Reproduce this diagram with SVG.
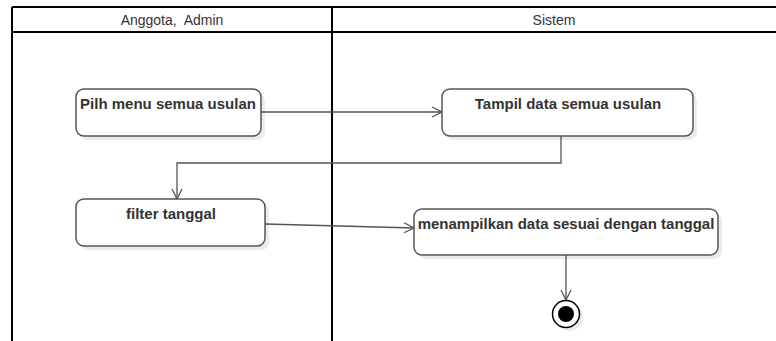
<svg xmlns="http://www.w3.org/2000/svg" width="776" height="341" viewBox="0 0 776 341">
<defs>
<style>
.lane{fill:none;stroke:#000;stroke-width:2}
.hdr{font-family:"Liberation Sans",Arial,sans-serif;font-size:14px;fill:#333;text-anchor:middle}
.box{fill:#fff;stroke:#555;stroke-width:1.5}
.shadow{fill:#000;opacity:0.08}
.lbl{font-family:"Liberation Sans",Arial,sans-serif;font-size:15px;font-weight:bold;fill:#333;text-anchor:middle}
.edge{fill:none;stroke:#555;stroke-width:1.3}
</style>
<marker id="arr" viewBox="0 0 12 12" refX="11" refY="6" markerWidth="12" markerHeight="12" markerUnits="userSpaceOnUse" orient="auto">
<path d="M1,1 L11,6 L1,11" fill="none" stroke="#555" stroke-width="1.3"/>
</marker>
</defs>
<rect width="776" height="341" fill="#fff"/>
<g id="lanes">
<line class="lane" x1="12" y1="7" x2="776" y2="7"/>
<line class="lane" x1="12" y1="32" x2="776" y2="32"/>
<line class="lane" x1="12" y1="7" x2="12" y2="341"/>
<line class="lane" x1="332" y1="7" x2="332" y2="341"/>
<text class="hdr" x="172" y="25" xml:space="preserve">Anggota,  Admin</text>
<text class="hdr" x="554" y="25">Sistem</text>
</g>
<g id="connectors">
<path class="edge" d="M261,112 L442,112" marker-end="url(#arr)"/>
<path class="edge" d="M561,136 L561,163 L177,163 L177,199" marker-end="url(#arr)"/>
<path class="edge" d="M265,224 L414,228" marker-end="url(#arr)"/>
<path class="edge" d="M566,255 L566,300" marker-end="url(#arr)"/>
</g>
<g id="n1">
<rect class="shadow" x="80" y="93" width="185" height="47" rx="8"/>
<rect class="box" x="76" y="89" width="185" height="47" rx="8"/>
<text class="lbl" x="168" y="109">Pilh menu semua usulan</text>
</g>
<g id="n2">
<rect class="shadow" x="446" y="93" width="251" height="47" rx="8"/>
<rect class="box" x="442" y="89" width="251" height="47" rx="8"/>
<text class="lbl" x="568" y="109">Tampil data semua usulan</text>
</g>
<g id="n3">
<rect class="shadow" x="80" y="203" width="189" height="47" rx="8"/>
<rect class="box" x="76" y="199" width="189" height="47" rx="8"/>
<text class="lbl" x="171" y="219">filter tanggal</text>
</g>
<g id="n4">
<rect class="shadow" x="418" y="213" width="304" height="46" rx="8"/>
<rect class="box" x="414" y="209" width="304" height="46" rx="8"/>
<text class="lbl" x="566" y="229">menampilkan data sesuai dengan tanggal</text>
</g>
<g id="end">
<circle cx="569" cy="317" r="14" fill="#000" opacity="0.08"/>
<circle cx="566" cy="314" r="13.5" fill="#fff" stroke="#000" stroke-width="1.5"/>
<circle cx="566" cy="314" r="8" fill="#000"/>
</g>
</svg>
